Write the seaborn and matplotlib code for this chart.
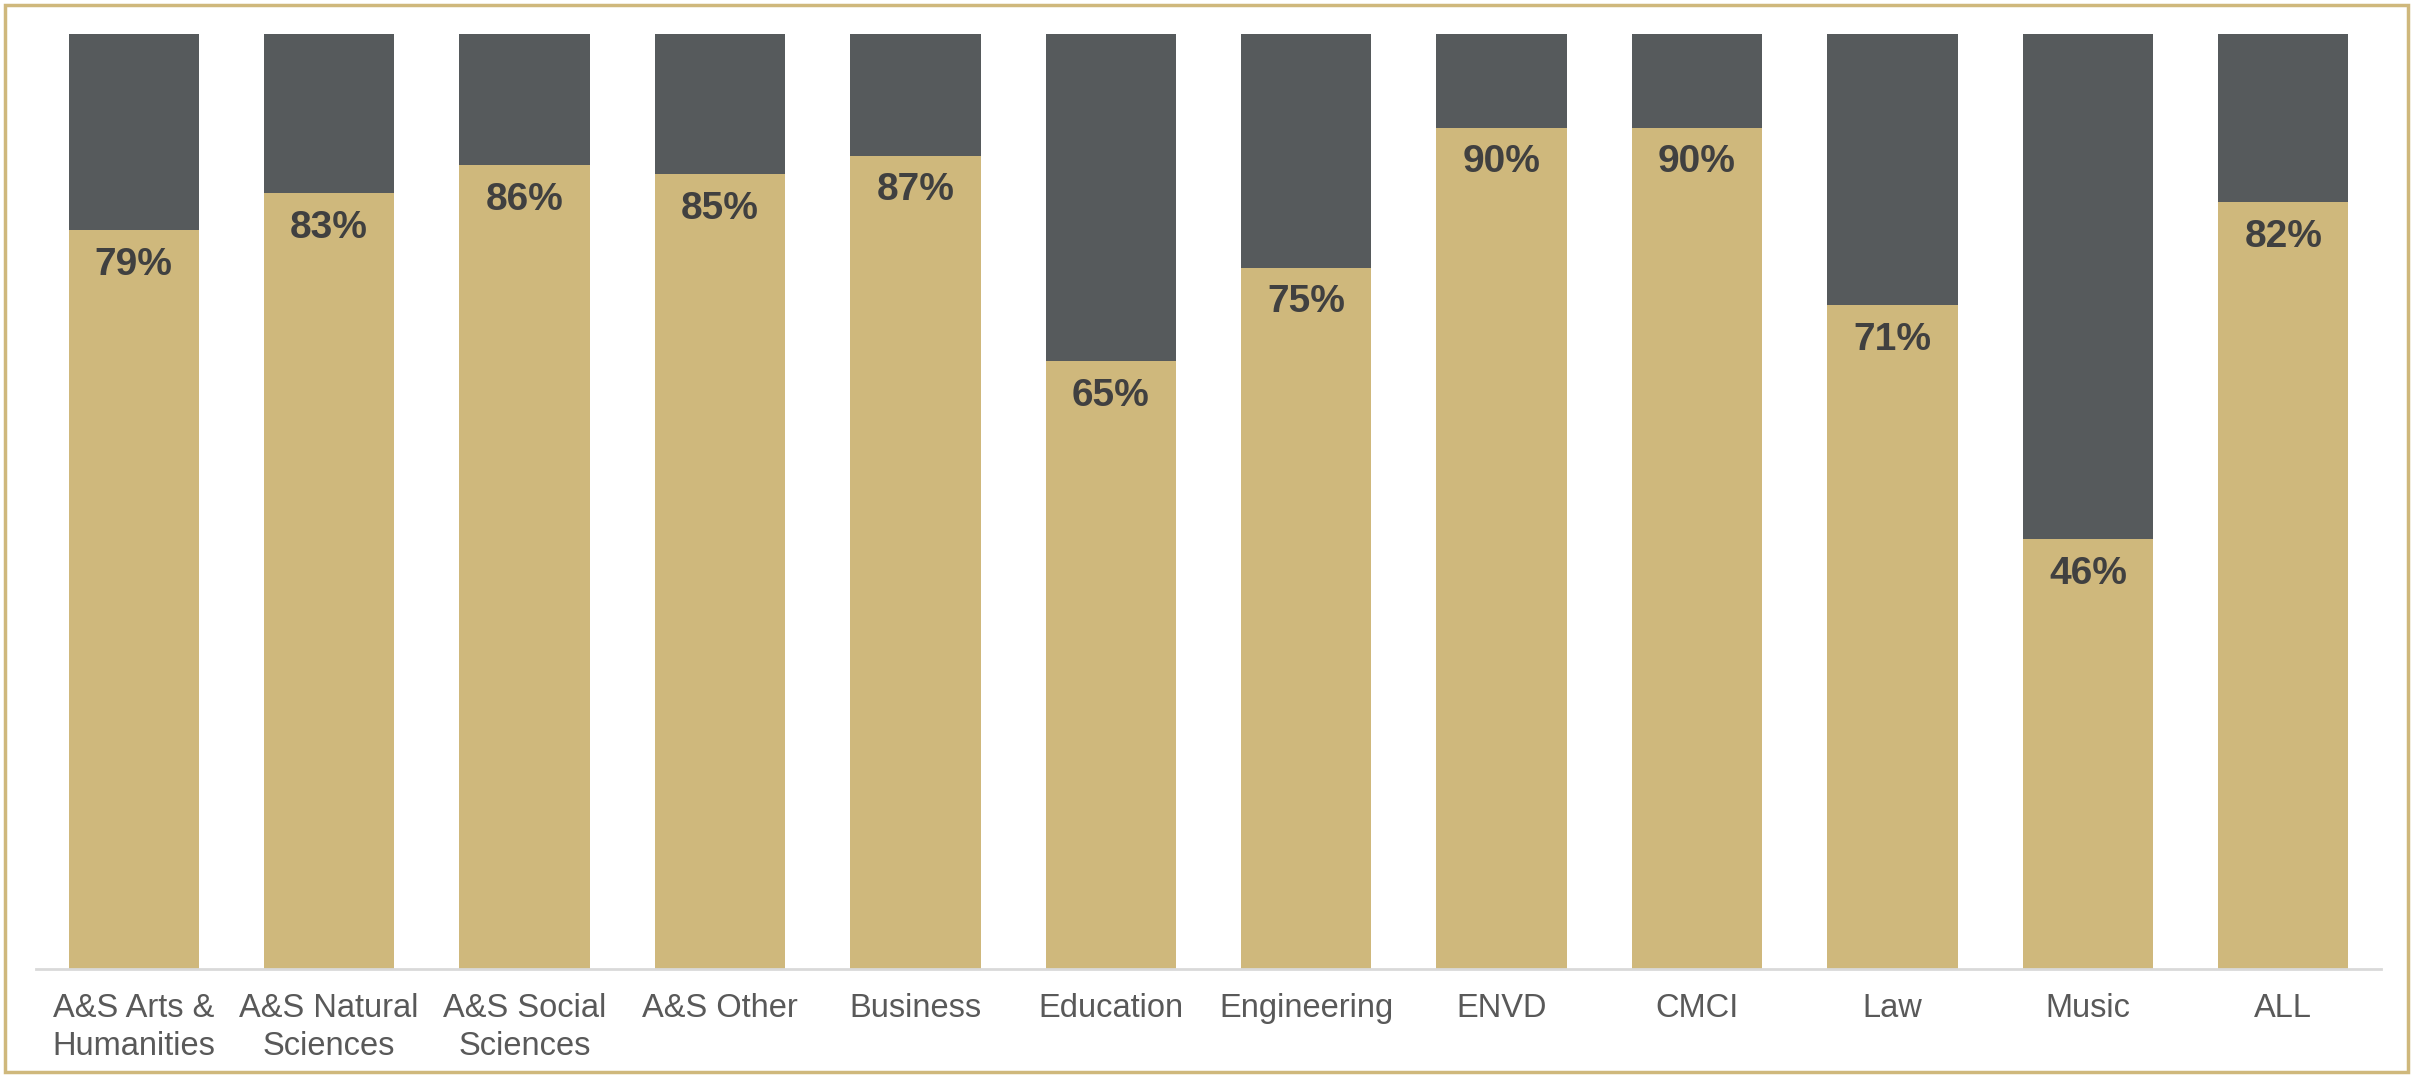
import matplotlib
matplotlib.use("Agg")
import matplotlib.pyplot as plt
import matplotlib.patches as mpatches
import seaborn as sns
import pandas as pd

categories = ["A&S Arts &\nHumanities", "A&S Natural\nSciences", "A&S Social\nSciences",
              "A&S Other", "Business", "Education", "Engineering", "ENVD", "CMCI",
              "Law", "Music", "ALL"]
yes_pct = [79, 83, 86, 85, 87, 65, 75, 90, 90, 71, 46, 82]
total_pct = [100] * len(categories)

GOLD = "#CFB87C"
DARK = "#565A5C"
TEXT = "#404040"
TICK = "#595959"

sns.set_theme(style="white")
plt.rcParams["font.family"] = ["Liberation Sans", "DejaVu Sans"]

df = pd.DataFrame({"category": categories, "yes": yes_pct, "total": total_pct})

fig = plt.figure(figsize=(24.12, 10.77), dpi=100)
ax = fig.add_axes([36 / 2412, 1 - 969 / 1077, (2381 - 36) / 2412, (969 - 34) / 1077])

sns.barplot(data=df, x="category", y="total", color=DARK, saturation=1,
            width=0.667, ax=ax, linewidth=0)
sns.barplot(data=df, x="category", y="yes", color=GOLD, saturation=1,
            width=0.667, ax=ax, linewidth=0)

for i, v in enumerate(yes_pct):
    ax.annotate(f"{v}%", xy=(i, v), xytext=(0, -25), textcoords="offset points",
                ha="center", va="center", fontsize=28, fontweight="bold", color=TEXT)

ax.set_ylim(0, 100)
ax.set_xlim(-0.5, len(categories) - 0.5)
ax.set_xlabel("")
ax.set_ylabel("")
ax.set_yticks([])
ax.tick_params(axis="x", length=0, pad=17, labelsize=23.5, labelcolor=TICK)
for lbl in ax.get_xticklabels():
    lbl.set_linespacing(1.3)
for side in ["top", "left", "right"]:
    ax.spines[side].set_visible(False)
ax.spines["bottom"].set_color("#D9D9D9")
ax.spines["bottom"].set_linewidth(2)

fig.patches.append(mpatches.Rectangle((5 / 2412, 5 / 1077), 2403 / 2412, 1067 / 1077,
                                      transform=fig.transFigure, fill=False,
                                      edgecolor=GOLD, linewidth=2.5))

fig.savefig("out.png", dpi=100, facecolor="white")
